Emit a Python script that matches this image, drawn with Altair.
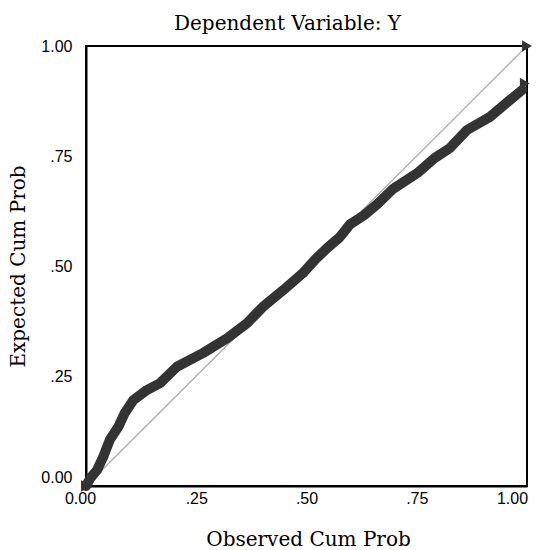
import altair as alt
import pandas as pd

# Observed vs expected cumulative probabilities
observed = [0.000, 0.010, 0.025, 0.039, 0.054, 0.073, 0.088, 0.107, 0.138, 0.168,
            0.206, 0.265, 0.320, 0.365, 0.401, 0.447, 0.492, 0.520, 0.546, 0.575,
            0.599, 0.630, 0.660, 0.696, 0.751, 0.790, 0.825, 0.864, 0.916, 0.961,
            0.989]
expected = [0.000, 0.018, 0.036, 0.066, 0.105, 0.134, 0.166, 0.195, 0.218, 0.234,
            0.271, 0.302, 0.336, 0.370, 0.407, 0.445, 0.484, 0.515, 0.540, 0.565,
            0.595, 0.615, 0.640, 0.675, 0.711, 0.745, 0.768, 0.809, 0.839, 0.877,
            0.900]
# isolated marker points
marker_obs = [0.0, 0.995, 1.0]
marker_exp = [0.0, 0.915, 1.0]

tick_values = [0, 0.25, 0.5, 0.75, 1.0]
tick_labels = ["0.00", ".25", ".50", ".75", "1.00"]

curve = pd.DataFrame({"obs": observed, "exp": expected, "order": range(len(observed))})
markers = pd.DataFrame({"obs": marker_obs, "exp": marker_exp})
diag = pd.DataFrame({"obs": [0.0, 1.0], "exp": [0.0, 1.0]})

label_expr = "[" + ",".join(f"'{t}'" for t in tick_labels) + "][indexof([" + \
    ",".join(str(v) for v in tick_values) + "], datum.value)]"

xscale = alt.Scale(domain=[0, 1], nice=False, zero=False)
yscale = alt.Scale(domain=[0, 1], nice=False, zero=False)

xaxis = alt.Axis(values=tick_values, labelExpr=label_expr, ticks=False, grid=False,
                 domainColor="black", domainWidth=2, labelFlush=False,
                 labelFont="Liberation Sans", labelFontSize=16, labelColor="black",
                 labelPadding=4, labelBaseline="top",
                 labelOffset={"condition": [{"test": "datum.value == 0", "value": -6},
                                            {"test": "datum.value == 1", "value": -15}],
                              "value": 0},
                 title="Observed Cum Prob", titleFont="DejaVu Serif",
                 titleFontSize=20, titleFontWeight="normal", titleColor="black",
                 titleX=222, titleY=59, titleBaseline="alphabetic", titleAlign="center")
yaxis = alt.Axis(values=tick_values, labelExpr=label_expr, ticks=False, grid=False,
                 domainColor="black", domainWidth=2, labelFlush=False,
                 labelFont="Liberation Sans", labelFontSize=16, labelColor="black",
                 labelPadding=14, labelBaseline="middle",
                 labelOffset={"condition": {"test": "datum.value == 0", "value": -9},
                              "value": 0},
                 title="Expected Cum Prob", titleFont="DejaVu Serif",
                 titleFontSize=20, titleFontWeight="normal", titleColor="black",
                 titleX=-68, titleY=220, titleAngle=-90, titleBaseline="middle",
                 titleAlign="center")

base_x = alt.X("obs:Q", scale=xscale, axis=xaxis)
base_y = alt.Y("exp:Q", scale=yscale, axis=yaxis)

diag_layer = alt.Chart(diag).mark_line(color="#a8a8a8", strokeWidth=1.2).encode(
    x=base_x, y=base_y)

curve_layer = alt.Chart(curve).mark_line(
    color="#333333", strokeWidth=10, strokeCap="round", strokeJoin="round"
).encode(x=base_x, y=base_y, order="order:Q")

marker_layer = alt.Chart(markers).mark_point(
    shape="triangle-right", filled=True, color="#333333", size=130, opacity=1
).encode(x=base_x, y=base_y)

chart = alt.layer(diag_layer, curve_layer, marker_layer).properties(
    width=441, height=440,
    background="white",
    title=alt.TitleParams("Dependent Variable: Y", font="DejaVu Serif",
                          fontSize=20, fontWeight="normal", color="black",
                          anchor="middle", dx=-19, dy=28, offset=12,
                          baseline="bottom"),
    autosize=alt.AutoSizeParams(type="none"),
    padding={"left": 86, "top": 46, "right": 14, "bottom": 64},
).configure_view(stroke="black", strokeWidth=2)

chart.save("out.html", embed_options={"renderer": "svg", "actions": False})
